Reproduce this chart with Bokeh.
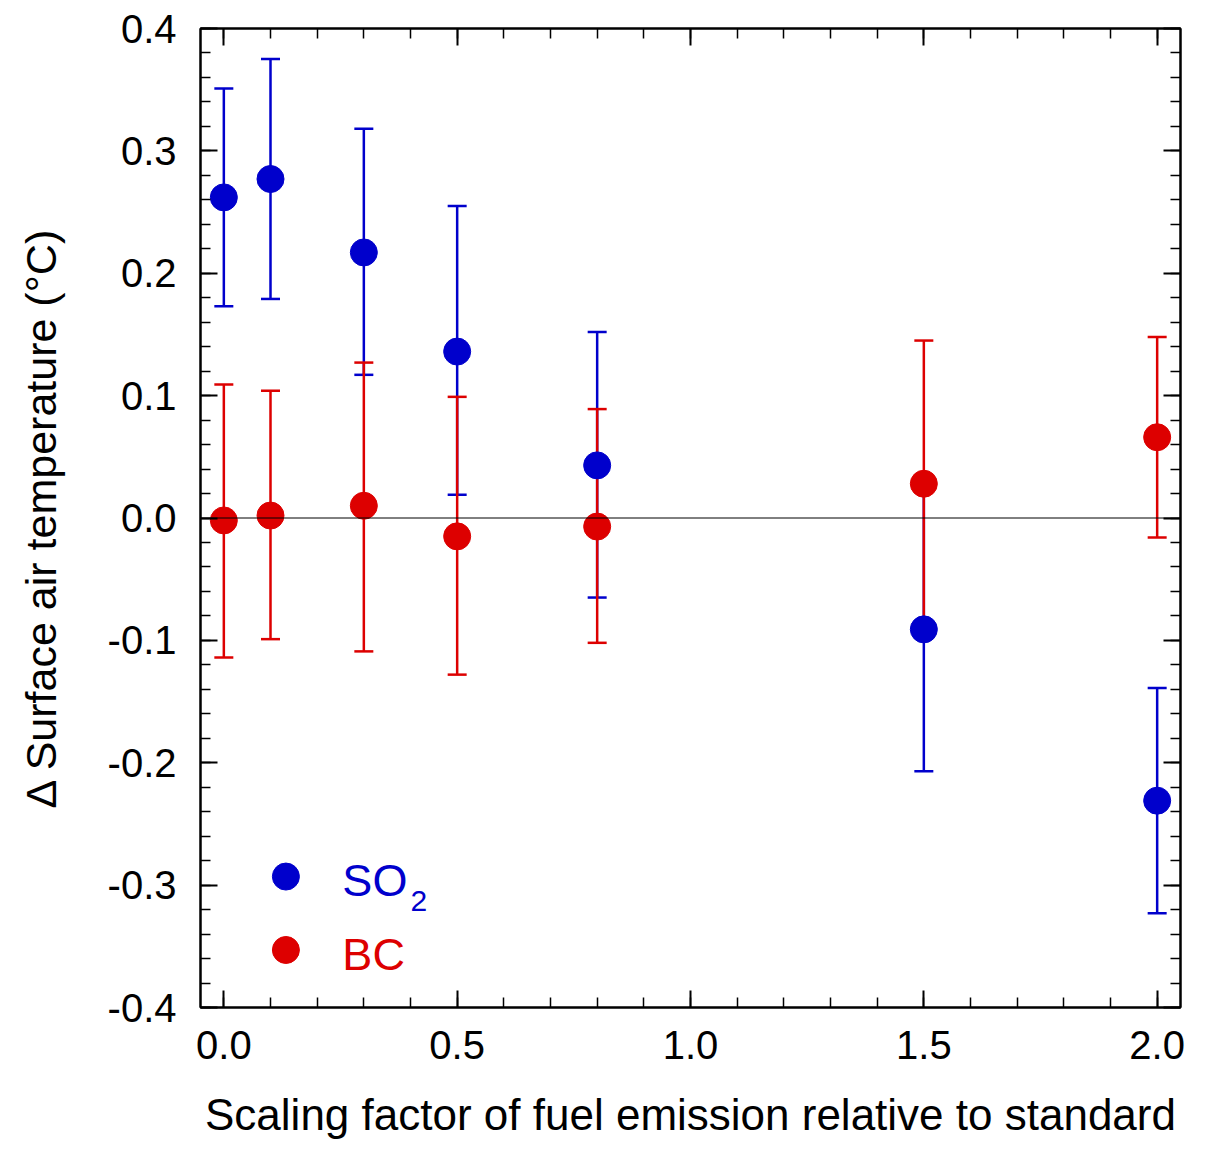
from bokeh.plotting import figure
from bokeh.models import (ColumnDataSource, Whisker, TeeHead, Span, Label, LinearAxis,
                          SingleIntervalTicker, PrintfTickFormatter, Range1d,
                          CustomJSTickFormatter)
from bokeh.embed import file_html
from bokeh.resources import INLINE

# ---- data ----
scaling = [0.0, 0.1, 0.3, 0.5, 0.8, 1.5, 2.0]
so2_mean = [0.262, 0.277, 0.217, 0.136, 0.043, -0.091, -0.231]
so2_upper = [0.351, 0.375, 0.318, 0.255, 0.152, 0.026, -0.139]
so2_lower = [0.173, 0.179, 0.117, 0.019, -0.065, -0.207, -0.323]
bc_mean = [-0.002, 0.002, 0.010, -0.015, -0.007, 0.028, 0.066]
bc_upper = [0.109, 0.104, 0.127, 0.099, 0.089, 0.145, 0.148]
bc_lower = [-0.114, -0.099, -0.109, -0.128, -0.102, -0.089, -0.016]

x_title = "Scaling factor of fuel emission relative to standard"
y_title = "Δ Surface air temperature (°C)"

BLUE = "#0000CC"
RED = "#DD0000"
FONT = "Liberation Sans"

so2_src = ColumnDataSource(dict(x=scaling, y=so2_mean, upper=so2_upper, lower=so2_lower))
bc_src = ColumnDataSource(dict(x=scaling, y=bc_mean, upper=bc_upper, lower=bc_lower))

p = figure(width=1196, height=1141, output_backend="svg", toolbar_location=None,
           x_range=Range1d(-0.05, 2.05), y_range=Range1d(-0.4, 0.4),
           min_border_left=200, min_border_right=16, min_border_top=28, min_border_bottom=133)
p.grid.visible = False
p.outline_line_color = "black"
p.outline_line_width = 2
p.background_fill_color = "white"
p.border_fill_color = "white"

def style(ax, labels=True):
    ax.axis_line_color = "black"
    ax.axis_line_width = 2
    ax.major_tick_in = 17
    ax.major_tick_out = 0
    ax.minor_tick_in = 10
    ax.minor_tick_out = 0
    ax.major_tick_line_width = 2
    ax.minor_tick_line_width = 1.5
    ax.major_tick_line_color = "black"
    ax.minor_tick_line_color = "black"
    ax.major_label_text_font = FONT
    ax.major_label_text_color = "black"
    ax.axis_label_text_font = FONT
    ax.axis_label_text_font_style = "normal"
    ax.axis_label_text_color = "black"
    if not labels:
        ax.formatter = CustomJSTickFormatter(code="return ''")
        ax.major_label_standoff = 0

xa = p.xaxis[0]
xa.ticker = SingleIntervalTicker(interval=0.5, num_minor_ticks=5)
xa.formatter = PrintfTickFormatter(format="%.1f")
style(xa)
xa.major_label_text_font_size = "40px"
xa.major_label_standoff = 23
xa.axis_label = x_title
xa.axis_label_text_font_size = "44px"
xa.axis_label_standoff = 28

ya = p.yaxis[0]
ya.ticker = SingleIntervalTicker(interval=0.1, num_minor_ticks=5)
ya.formatter = PrintfTickFormatter(format="%.1f")
style(ya)
ya.major_label_text_font_size = "40px"
ya.major_label_standoff = 24
ya.axis_label = y_title
ya.axis_label_text_font_size = "43px"
ya.axis_label_standoff = 40

top = LinearAxis(ticker=SingleIntervalTicker(interval=0.5, num_minor_ticks=5))
style(top, labels=False)
p.add_layout(top, "above")
right = LinearAxis(ticker=SingleIntervalTicker(interval=0.1, num_minor_ticks=5))
style(right, labels=False)
p.add_layout(right, "right")

# error bars (blue first, red on top)
for src, col in ((so2_src, BLUE), (bc_src, RED)):
    w = Whisker(source=src, base="x", upper="upper", lower="lower",
                line_color=col, line_width=2.5, level="underlay",
                upper_head=TeeHead(size=19, line_color=col, line_width=2.5),
                lower_head=TeeHead(size=19, line_color=col, line_width=2.5))
    p.add_layout(w)

p.scatter("x", "y", source=so2_src, size=27, color=BLUE)
p.scatter("x", "y", source=bc_src, size=27, color=RED)

p.add_layout(Span(location=0, dimension="width", line_color="black", line_width=1, level="overlay"))

# legend
leg_x = [0.133]
p.scatter(x=leg_x, y=[-0.293], size=27, color=BLUE)
p.scatter(x=leg_x, y=[-0.353], size=27, color=RED)
p.add_layout(Label(x=0.254, y=-0.296, text="SO", text_font=FONT, text_font_size="45px",
                   text_color=BLUE, text_baseline="middle", text_align="left"))
p.add_layout(Label(x=0.400, y=-0.313, text="2", text_font=FONT, text_font_size="30px",
                   text_color=BLUE, text_baseline="middle", text_align="left"))
p.add_layout(Label(x=0.254, y=-0.357, text="BC", text_font=FONT, text_font_size="45px",
                   text_color=RED, text_baseline="middle", text_align="left"))

open("out.html", "w").write(file_html(p, INLINE))
